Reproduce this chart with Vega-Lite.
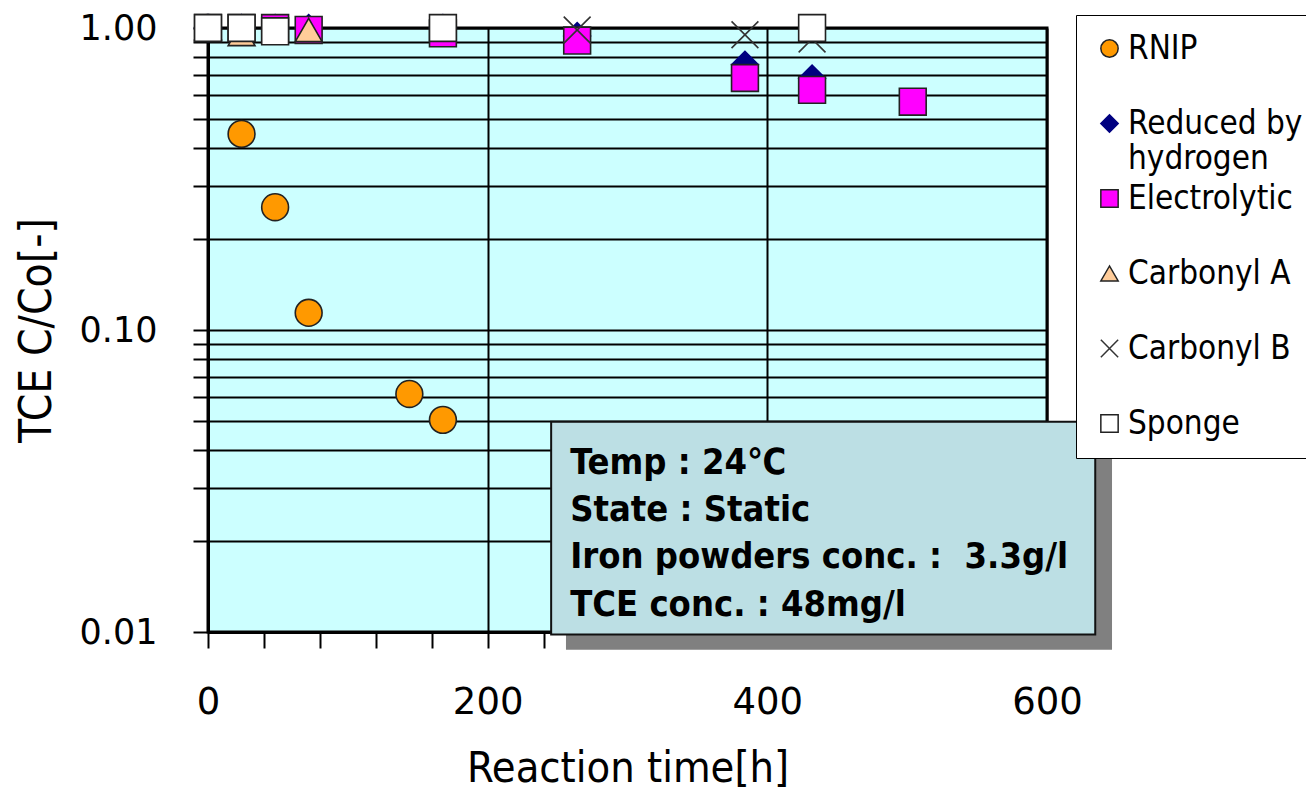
{
  "$schema": "https://vega.github.io/schema/vega-lite/v6.json",
  "autosize": {"type": "none"},
  "padding": {"left": 208, "top": 28, "right": 259, "bottom": 160},
  "width": 839,
  "height": 604,
  "background": "white",
  "config": {
    "view": {"fill": "#CCFFFF", "stroke": "black", "strokeWidth": 3},
    "axis": {"domainColor": "black", "domainWidth": 3, "tickColor": "black", "tickWidth": 2, "gridColor": "black", "gridWidth": 2, "labelColor": "black", "titleColor": "black", "titleFontWeight": "normal"}
  },
  "datasets": {
    "pts": [
      {"series": "RNIP", "t": 0, "c": 1.0},
      {"series": "RNIP", "t": 24, "c": 0.446},
      {"series": "RNIP", "t": 48, "c": 0.255},
      {"series": "RNIP", "t": 72, "c": 0.114},
      {"series": "RNIP", "t": 144, "c": 0.0614},
      {"series": "RNIP", "t": 168, "c": 0.0504},
      {"series": "Reduced by hydrogen", "t": 0, "c": 1.0},
      {"series": "Reduced by hydrogen", "t": 24, "c": 1.0},
      {"series": "Reduced by hydrogen", "t": 48, "c": 1.0},
      {"series": "Reduced by hydrogen", "t": 72, "c": 1.0},
      {"series": "Reduced by hydrogen", "t": 168, "c": 1.0},
      {"series": "Reduced by hydrogen", "t": 264, "c": 0.94},
      {"series": "Reduced by hydrogen", "t": 384, "c": 0.755},
      {"series": "Reduced by hydrogen", "t": 432, "c": 0.68},
      {"series": "Electrolytic", "t": 0, "c": 1.0},
      {"series": "Electrolytic", "t": 24, "c": 1.0},
      {"series": "Electrolytic", "t": 48, "c": 1.0},
      {"series": "Electrolytic", "t": 72, "c": 0.985},
      {"series": "Electrolytic", "t": 168, "c": 0.96},
      {"series": "Electrolytic", "t": 264, "c": 0.909},
      {"series": "Electrolytic", "t": 384, "c": 0.683},
      {"series": "Electrolytic", "t": 432, "c": 0.624},
      {"series": "Electrolytic", "t": 504, "c": 0.57},
      {"series": "Carbonyl A", "t": 0, "c": 1.0},
      {"series": "Carbonyl A", "t": 24, "c": 0.955},
      {"series": "Carbonyl A", "t": 72, "c": 0.985},
      {"series": "Carbonyl B", "t": 264, "c": 0.985},
      {"series": "Carbonyl B", "t": 384, "c": 0.95},
      {"series": "Carbonyl B", "t": 432, "c": 0.92},
      {"series": "Sponge", "t": 0, "c": 1.0},
      {"series": "Sponge", "t": 24, "c": 1.0},
      {"series": "Sponge", "t": 48, "c": 0.975},
      {"series": "Sponge", "t": 168, "c": 1.0},
      {"series": "Sponge", "t": 432, "c": 1.0}
    ],
    "shadow": [
      {"t0": 256, "t1": 646.5, "c0": 0.0443, "c1": 0.00873}
    ],
    "panel": [
      {"t0": 245.4, "t1": 634.5, "c0": 0.0497, "c1": 0.00982}
    ],
    "notes": [
      {"line": "Temp : 24℃", "t": 259, "c": 0.0363},
      {"line": "State : Static", "t": 259, "c": 0.02535},
      {"line": "Iron powders conc. : \u00a03.3g/l", "t": 259, "c": 0.0177},
      {"line": "TCE conc. : 48mg/l", "t": 259, "c": 0.01228}
    ]
  },
  "layer": [
    {
      "data": {"name": "pts"},
      "mark": {"type": "point", "filled": true, "size": 720, "opacity": 1, "strokeWidth": 1.6, "clip": false},
      "encoding": {
        "x": {
          "field": "t", "type": "quantitative",
          "scale": {"domain": [0, 600], "nice": false, "zero": false},
          "axis": {
            "title": "Reaction time[h]",
            "values": [0, 40, 80, 120, 160, 200, 240, 280, 320, 360, 400, 440, 480, 520, 560, 600],
            "labelExpr": "datum.value % 200 == 0 ? datum.label : ''",
            "gridOpacity": {"condition": {"test": "datum.value % 200 == 0", "value": 1}, "value": 0},
            "tickSize": 16,
            "labelFont": "DejaVu Sans", "labelFontSize": 37, "labelPadding": 36,
            "titleFont": "DejaVu Sans Condensed, DejaVu Sans", "titleFontSize": 43, "titlePadding": 27,
            "labelFlush": false
          }
        },
        "y": {
          "field": "c", "type": "quantitative",
          "scale": {"type": "log", "domain": [0.01, 1], "nice": false},
          "axis": {
            "title": "TCE C/Co[-]",
            "values": [0.01, 0.02, 0.03, 0.04, 0.05, 0.06, 0.07, 0.08, 0.09, 0.1, 0.2, 0.3, 0.4, 0.5, 0.6, 0.7, 0.8, 0.9, 1],
            "labelExpr": "abs(datum.value - 1) < 1e-6 ? '1.00' : abs(datum.value - 0.1) < 1e-7 ? '0.10' : abs(datum.value - 0.01) < 1e-8 ? '0.01' : ''",
            "tickSize": 15,
            "labelFont": "DejaVu Sans", "labelFontSize": 35, "labelPadding": 36,
            "titleFont": "DejaVu Sans Condensed, DejaVu Sans", "titleFontSize": 44, "titlePadding": 20,
            "labelFlush": false
          }
        },
        "shape": {
          "field": "series", "type": "nominal",
          "scale": {
            "domain": ["RNIP", "Reduced by hydrogen", "Electrolytic", "Carbonyl A", "Carbonyl B", "Sponge"],
            "range": ["circle", "diamond", "square", "triangle-up", "M-1,-1L1,1M-1,1L1,-1", "square"]
          },
          "legend": {
            "title": null,
            "orient": "none",
            "legendX": 868,
            "legendY": -13,
            "padding": 17,
            "strokeColor": "black",
            "fillColor": "white",
            "labelFont": "DejaVu Sans Condensed, DejaVu Sans",
            "labelFontSize": 33,
            "labelColor": "black",
            "symbolSize": 300,
            "symbolStrokeWidth": 1.5,
            "gridAlign": "all",
            "rowPadding": 6,
            "labelOffset": 2,
            "labelLimit": 400,
            "labelExpr": "datum.label == 'Reduced by hydrogen' ? ['Reduced by', 'hydrogen'] : datum.label"
          }
        },
        "fill": {
          "field": "series", "type": "nominal",
          "scale": {
            "domain": ["RNIP", "Reduced by hydrogen", "Electrolytic", "Carbonyl A", "Carbonyl B", "Sponge"],
            "range": ["#FF9900", "#000080", "#FF00FF", "#FFCC99", "transparent", "#FFFFFF"]
          }
        },
        "stroke": {
          "field": "series", "type": "nominal",
          "scale": {
            "domain": ["RNIP", "Reduced by hydrogen", "Electrolytic", "Carbonyl A", "Carbonyl B", "Sponge"],
            "range": ["#222222", "#000080", "#222222", "#222222", "#333333", "#222222"]
          }
        }
      }
    },
    {
      "data": {"name": "shadow"},
      "mark": {"type": "rect", "clip": false, "fill": "#808080"},
      "encoding": {
        "x": {"field": "t0", "type": "quantitative"},
        "x2": {"field": "t1"},
        "y": {"field": "c0", "type": "quantitative"},
        "y2": {"field": "c1"}
      }
    },
    {
      "data": {"name": "panel"},
      "mark": {"type": "rect", "clip": false, "fill": "#BCDFE4", "stroke": "#111111", "strokeWidth": 2},
      "encoding": {
        "x": {"field": "t0", "type": "quantitative"},
        "x2": {"field": "t1"},
        "y": {"field": "c0", "type": "quantitative"},
        "y2": {"field": "c1"}
      }
    },
    {
      "data": {"name": "notes"},
      "mark": {"type": "text", "align": "left", "baseline": "middle", "font": "DejaVu Sans Condensed, DejaVu Sans", "fontWeight": "bold", "fontSize": 36, "color": "black", "clip": false},
      "encoding": {
        "x": {"field": "t", "type": "quantitative"},
        "y": {"field": "c", "type": "quantitative"},
        "text": {"field": "line"}
      }
    }
  ]
}
